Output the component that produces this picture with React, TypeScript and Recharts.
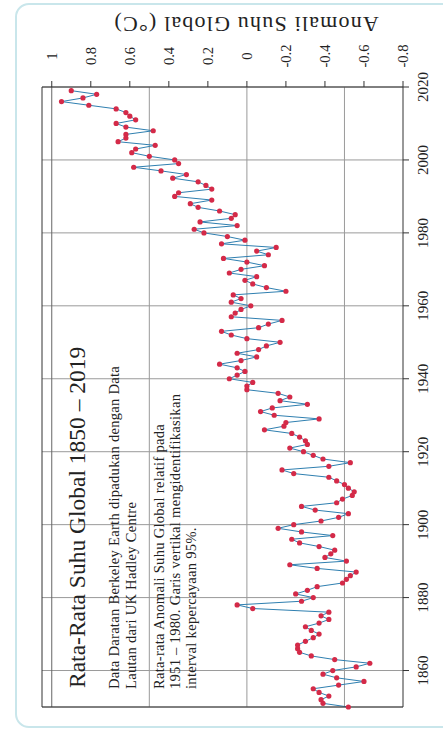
import { LineChart, Line, XAxis, YAxis, CartesianGrid, ReferenceLine } from 'recharts';

// Annual global temperature anomaly (°C, relative to 1951–1980)
const START_YEAR = 1850;
const anomaly1850s = [-0.52, -0.39, -0.38, -0.42, -0.37, -0.34, -0.47, -0.6, -0.46, -0.39];
const anomaly1860s = [-0.44, -0.56, -0.63, -0.45, -0.33, -0.27, -0.26, -0.26, -0.3, -0.34];
const anomaly1870s = [-0.37, -0.33, -0.3, -0.37, -0.42, -0.38, -0.42, -0.03, 0.05, -0.28];
const anomaly1880s = [-0.34, -0.25, -0.31, -0.36, -0.49, -0.51, -0.53, -0.56, -0.36, -0.22];
const anomaly1890s = [-0.51, -0.4, -0.43, -0.45, -0.37, -0.27, -0.23, -0.44, -0.28, -0.16];
const anomaly1900s = [-0.24, -0.38, -0.47, -0.52, -0.35, -0.28, -0.46, -0.49, -0.54, -0.55];
const anomaly1910s = [-0.52, -0.5, -0.46, -0.42, -0.24, -0.18, -0.42, -0.53, -0.39, -0.34];
const anomaly1920s = [-0.29, -0.22, -0.31, -0.3, -0.27, -0.23, -0.09, -0.19, -0.2, -0.37];
const anomaly1930s = [-0.14, -0.07, -0.13, -0.31, -0.17, -0.22, -0.16, 0.0, 0.0, -0.03];
const anomaly1940s = [0.09, 0.05, 0.01, 0.05, 0.14, 0.03, -0.05, 0.05, -0.06, -0.1];
const anomaly1950s = [-0.17, 0.0, 0.08, 0.13, -0.06, -0.11, -0.18, 0.08, 0.06, 0.03];
const anomaly1960s = [-0.02, 0.08, 0.03, 0.07, -0.2, -0.1, -0.03, 0.01, -0.05, 0.09];
const anomaly1970s = [0.03, -0.09, 0.0, 0.12, -0.11, -0.05, -0.15, 0.13, 0.01, 0.1];
const anomaly1980s = [0.22, 0.27, 0.05, 0.24, 0.08, 0.06, 0.14, 0.25, 0.29, 0.18];
const anomaly1990s = [0.37, 0.35, 0.18, 0.21, 0.25, 0.38, 0.31, 0.44, 0.58, 0.35];
const anomaly2000s = [0.37, 0.5, 0.59, 0.57, 0.47, 0.66, 0.62, 0.62, 0.48, 0.62];
const anomaly2010s = [0.67, 0.57, 0.6, 0.62, 0.67, 0.81, 0.95, 0.84, 0.77, 0.9];

const YEAR_TICKS = [1860, 1880, 1900, 1920, 1940, 1960, 1980, 2000, 2020];
const VALUE_TICKS = [1, 0.8, 0.6, 0.4, 0.2, 0, -0.2, -0.4, -0.6, -0.8];
const VALUE_GRID = [1, 0.5, 0, -0.5];

const TITLE = 'Rata-Rata Suhu Global 1850 – 2019';
const NOTE_TOP = ['Data Daratan Berkeley Earth dipadukan dengan Data', 'Lautan dari UK Hadley Centre'];
const NOTE_BOTTOM = [
  'Rata-rata Anomali Suhu Global relatif pada',
  '1951 – 1980. Garis vertikal mengidentifikasikan',
  'interval kepercayaan 95%.',
];
const AXIS_TITLE = 'Anomali Suhu Global (°C)';

const allValues = [
  ...anomaly1850s, ...anomaly1860s, ...anomaly1870s, ...anomaly1880s, ...anomaly1890s,
  ...anomaly1900s, ...anomaly1910s, ...anomaly1920s, ...anomaly1930s, ...anomaly1940s,
  ...anomaly1950s, ...anomaly1960s, ...anomaly1970s, ...anomaly1980s, ...anomaly1990s,
  ...anomaly2000s, ...anomaly2010s,
];
const chartData = allValues.map((value, i) => ({ year: START_YEAR + i, value }));

const FONT = "'Liberation Serif', 'Times New Roman', serif";
const INK = '#222';
const GRID = '#9a9a9a';

// the chart is laid out landscape (734 x 443) and turned a quarter turn
const W = 734;
const H = 443;

const noTick = () => <g />;

export default function App() {
  return (
    <div
      style={{
        position: 'fixed',
        left: 0,
        top: 0,
        width: 443,
        height: 734,
        background: '#fff',
        overflow: 'hidden',
      }}
    >
      <div
        style={{
          position: 'absolute',
          left: 15,
          top: 3,
          width: 445,
          height: 725,
          border: '2px solid #c9e6eb',
          borderRadius: 14,
          boxSizing: 'border-box',
        }}
      />
      <div
        style={{
          position: 'absolute',
          left: 0,
          top: 0,
          width: W,
          height: H,
          transformOrigin: '0 0',
          transform: `translateY(${W}px) rotate(-90deg)`,
        }}
      >
        <LineChart
          width={W}
          height={H}
          data={chartData}
          margin={{ top: 35, right: 27, bottom: 10, left: 20 }}
          style={{ fontFamily: FONT }}
        >
          <CartesianGrid xAxisId="x" yAxisId="y" horizontal={false} stroke={GRID} />
          <XAxis
            xAxisId="x"
            dataKey="year"
            type="number"
            domain={[1850, 2020]}
            ticks={YEAR_TICKS}
            height={30}
            tickSize={6}
            tickMargin={8}
            axisLine={{ stroke: '#333' }}
            tickLine={{ stroke: '#333' }}
            tick={{ fill: INK, fontSize: 15, fontFamily: FONT }}
          />
          <XAxis
            xAxisId="xt"
            orientation="top"
            type="number"
            domain={[1850, 2020]}
            ticks={YEAR_TICKS}
            height={7}
            tickSize={6}
            axisLine={{ stroke: '#333' }}
            tickLine={{ stroke: '#333' }}
            tick={noTick}
          />
          <YAxis
            yAxisId="y"
            orientation="right"
            type="number"
            domain={[-0.8, 1.05]}
            ticks={VALUE_TICKS}
            width={60}
            tickSize={6}
            tickMargin={25}
            axisLine={{ stroke: '#333' }}
            tickLine={{ stroke: '#333' }}
            tick={{ fill: INK, fontSize: 14.5, fontFamily: FONT, textAnchor: 'middle' }}
          />
          <YAxis
            yAxisId="yl"
            orientation="left"
            type="number"
            domain={[-0.8, 1.05]}
            ticks={VALUE_TICKS}
            width={7}
            tickSize={6}
            axisLine={{ stroke: '#333' }}
            tickLine={{ stroke: '#333' }}
            tick={noTick}
          />
          {VALUE_GRID.map((v) => (
            <ReferenceLine
              key={v}
              xAxisId="x"
              yAxisId="y"
              y={v}
              stroke={v === 1 ? '#666' : GRID}
              strokeWidth={1}
            />
          ))}
          <Line
            xAxisId="x"
            yAxisId="y"
            type="linear"
            dataKey="value"
            stroke="#2f7fb0"
            strokeWidth={1}
            dot={{ r: 2.6, fill: '#d42a48', stroke: 'none' }}
            activeDot={false}
            isAnimationActive={false}
          />
        </LineChart>
        <svg
          width={W}
          height={H}
          style={{ position: 'absolute', left: 0, top: 0, pointerEvents: 'none' }}
          fontFamily={FONT}
          fill={INK}
        >
          <text x={46} y={85} fontSize={23.5}>
            {TITLE}
          </text>
          {NOTE_TOP.map((line, i) => (
            <text key={line} x={45} y={119 + i * 16.5} fontSize={14.5} letterSpacing={0.3}>
              {line}
            </text>
          ))}
          {NOTE_BOTTOM.map((line, i) => (
            <text key={line} x={45} y={164 + i * 16.2} fontSize={14.5} letterSpacing={0.3}>
              {line}
            </text>
          ))}
          <text
            x={717}
            y={246}
            fontSize={22}
            letterSpacing={1.2}
            textAnchor="middle"
            transform="rotate(-90 717 246)"
          >
            {AXIS_TITLE}
          </text>
        </svg>
      </div>
    </div>
  );
}
